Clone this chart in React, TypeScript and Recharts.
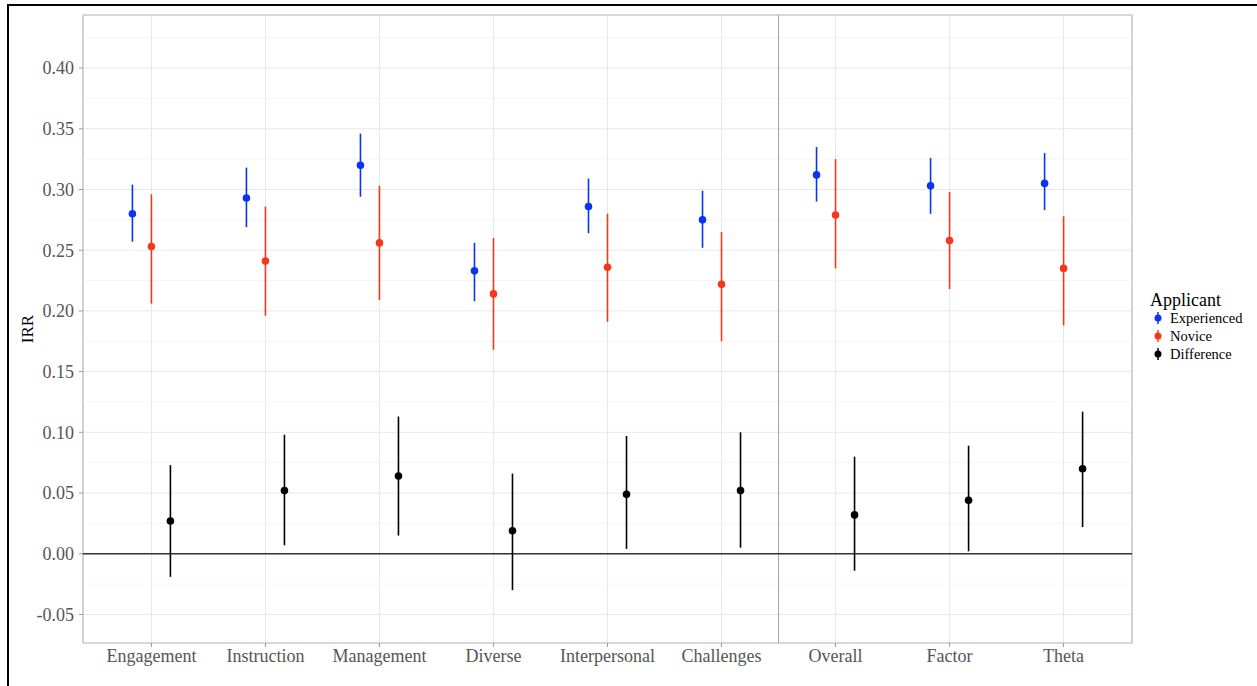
import {
  CartesianGrid,
  ErrorBar,
  Legend,
  ReferenceArea,
  ReferenceLine,
  Scatter,
  ScatterChart,
  XAxis,
  YAxis,
} from "recharts";

const CATEGORIES = [
  "Engagement",
  "Instruction",
  "Management",
  "Diverse",
  "Interpersonal",
  "Challenges",
  "Overall",
  "Factor",
  "Theta",
];

// point estimates and interval ends
const EXPERIENCED = [0.28, 0.293, 0.32, 0.233, 0.286, 0.275, 0.312, 0.303, 0.305];
const EXPERIENCED_LO = [0.257, 0.269, 0.294, 0.208, 0.264, 0.252, 0.29, 0.28, 0.283];
const EXPERIENCED_HI = [0.304, 0.318, 0.346, 0.256, 0.309, 0.299, 0.335, 0.326, 0.33];

const NOVICE = [0.253, 0.241, 0.256, 0.214, 0.236, 0.222, 0.279, 0.258, 0.235];
const NOVICE_LO = [0.206, 0.196, 0.209, 0.168, 0.191, 0.175, 0.235, 0.218, 0.188];
const NOVICE_HI = [0.296, 0.286, 0.303, 0.26, 0.28, 0.265, 0.325, 0.298, 0.278];

const DIFFERENCE = [0.027, 0.052, 0.064, 0.019, 0.049, 0.052, 0.032, 0.044, 0.07];
const DIFFERENCE_LO = [-0.019, 0.007, 0.015, -0.03, 0.004, 0.005, -0.014, 0.002, 0.022];
const DIFFERENCE_HI = [0.073, 0.098, 0.113, 0.066, 0.097, 0.1, 0.08, 0.089, 0.117];

const Y_TICKS = [-0.05, 0, 0.05, 0.1, 0.15, 0.2, 0.25, 0.3, 0.35, 0.4];
const Y_MINOR = [-0.025, 0.025, 0.075, 0.125, 0.175, 0.225, 0.275, 0.325, 0.375, 0.425];
const Y_DOMAIN: [number, number] = [-0.0735, 0.4437];
const X_DOMAIN: [number, number] = [0.4, 9.6];
const X_TICKS = CATEGORIES.map((_, i) => i + 1);
const SEPARATOR_X = 6.5; // between the six domains and the summary scores

const FONT = "'Liberation Serif', 'DejaVu Serif', serif";

const SERIES = [
  { name: "Experienced", color: "#0b33f2", mid: EXPERIENCED, lo: EXPERIENCED_LO, hi: EXPERIENCED_HI, dodge: -1 / 6 },
  { name: "Novice", color: "#f4381c", mid: NOVICE, lo: NOVICE_LO, hi: NOVICE_HI, dodge: 0 },
  { name: "Difference", color: "#000000", mid: DIFFERENCE, lo: DIFFERENCE_LO, hi: DIFFERENCE_HI, dodge: 1 / 6 },
];

function buildRows(mid: number[], lo: number[], hi: number[], dodge: number) {
  return CATEGORIES.map((name, i) => ({
    name,
    x: i + 1 + dodge,
    y: mid[i],
    err: [mid[i] - lo[i], hi[i] - mid[i]],
  }));
}

function IrrLabel({ viewBox }: any) {
  const cy = viewBox ? viewBox.y + viewBox.height / 2 : 329;
  return (
    <text
      x={27}
      y={cy}
      transform={`rotate(-90 27 ${cy})`}
      textAnchor="middle"
      dominantBaseline="central"
      fontFamily={FONT}
      fontSize={17}
      fill="#000"
    >
      IRR
    </text>
  );
}

function ApplicantLegend() {
  return (
    <div style={{ fontFamily: FONT, color: "#000" }}>
      <div style={{ fontSize: 18, lineHeight: "18px" }}>Applicant</div>
      {SERIES.map((s) => (
        <div
          key={s.name}
          style={{ display: "flex", alignItems: "center", height: 18, fontSize: 14.5 }}
        >
          <svg width={16} height={18} style={{ display: "block" }}>
            <line x1={8} x2={8} y1={3} y2={15} stroke={s.color} strokeWidth={1.5} />
            <circle cx={8} cy={9} r={3.5} fill={s.color} />
          </svg>
          <span style={{ marginLeft: 4 }}>{s.name}</span>
        </div>
      ))}
    </div>
  );
}

export default function App() {
  const tickStyle = { fill: "#555", fontSize: 18, fontFamily: FONT };

  return (
    <div style={{ position: "absolute", left: 0, top: 0, width: 1257, height: 686, background: "#fff" }}>
      <ScatterChart
        width={1257}
        height={686}
        margin={{ top: 15, right: 125, bottom: 0, left: 0 }}
      >
        {Y_MINOR.map((v) => (
          <ReferenceLine key={v} y={v} stroke="#f2f2f2" strokeWidth={0.8} />
        ))}
        <CartesianGrid stroke="#e8e8e8" strokeWidth={1} />
        <XAxis
          type="number"
          dataKey="x"
          domain={X_DOMAIN}
          ticks={X_TICKS}
          interval={0}
          allowDataOverflow
          tickFormatter={(v: number) => CATEGORIES[v - 1] ?? ""}
          height={43}
          tickSize={4}
          tickMargin={2}
          axisLine={false}
          tickLine={{ stroke: "#999" }}
          tick={tickStyle}
        />
        <YAxis
          type="number"
          dataKey="y"
          domain={Y_DOMAIN}
          ticks={Y_TICKS}
          interval={0}
          allowDataOverflow
          tickFormatter={(v: number) => v.toFixed(2)}
          width={83}
          tickSize={4}
          tickMargin={5}
          axisLine={false}
          tickLine={{ stroke: "#999" }}
          tick={tickStyle}
          label={<IrrLabel />}
        />
        <ReferenceLine x={SEPARATOR_X} stroke="#aaaaaa" strokeWidth={1.1} />
        <ReferenceLine y={0} stroke="#333333" strokeWidth={1.3} />
        <ReferenceArea
          x1={X_DOMAIN[0]}
          x2={X_DOMAIN[1]}
          y1={Y_DOMAIN[0]}
          y2={Y_DOMAIN[1]}
          fill="none"
          fillOpacity={0}
          stroke="#bbbbbb"
          strokeWidth={1.2}
          ifOverflow="visible"
        />
        <Legend
          layout="vertical"
          align="center"
          verticalAlign="middle"
          wrapperStyle={{ left: 1150, top: 291, width: 107 }}
          content={<ApplicantLegend />}
        />
        {SERIES.map((s) => (
          <Scatter
            key={s.name}
            name={s.name}
            data={buildRows(s.mid, s.lo, s.hi, s.dodge)}
            fill={s.color}
            isAnimationActive={false}
            shape={(p: any) => <circle cx={p.cx} cy={p.cy} r={3.8} fill={s.color} />}
          >
            <ErrorBar
              dataKey="err"
              direction="y"
              width={0}
              stroke={s.color}
              strokeWidth={1.6}
              isAnimationActive={false}
            />
          </Scatter>
        ))}
      </ScatterChart>
      <div
        style={{
          position: "absolute",
          left: 7,
          top: 4,
          width: 1250,
          height: 682,
          borderTop: "2px solid #000",
          borderLeft: "2px solid #000",
          boxSizing: "border-box",
          pointerEvents: "none",
        }}
      />
    </div>
  );
}
